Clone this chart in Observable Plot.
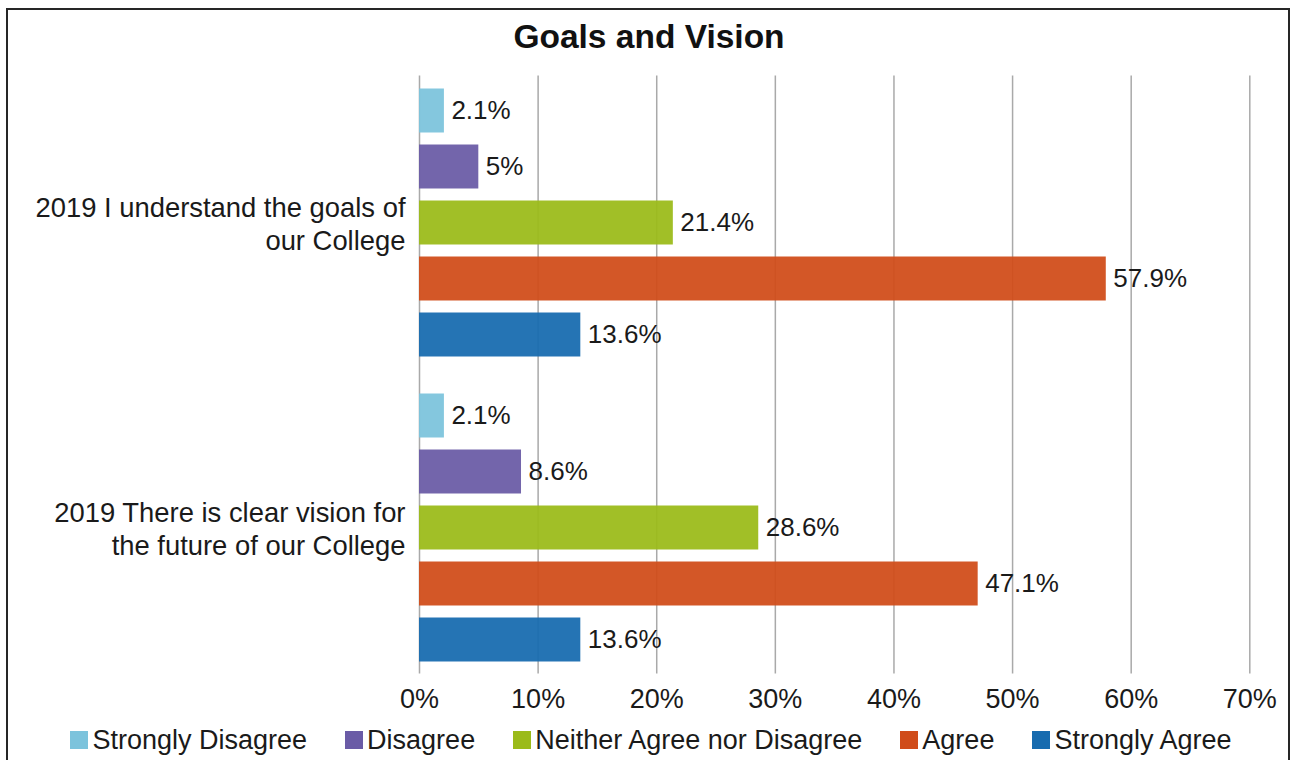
<!DOCTYPE html>
<html>
<head>
<meta charset="utf-8">
<script src="https://cdn.jsdelivr.net/npm/d3@7"></script>
<script src="https://cdn.jsdelivr.net/npm/@observablehq/plot@0.6"></script>
<style>
  html, body { margin: 0; padding: 0; background: #fff; }
  #wrap { position: relative; width: 1298px; height: 760px; overflow: hidden; background: #fff;
          font-family: "Liberation Sans", Arial, sans-serif; color: #1a1a1a; }
  #frame { position: absolute; left: 6px; top: 8px; width: 1284px; height: 820px; box-sizing: border-box;
           border: 2.5px solid #262626; pointer-events: none; }
  #title { height: 64px; box-sizing: border-box; padding-top: 10px; text-align: center;
           font-size: 33.5px; font-weight: bold; line-height: 54px; color: #111; }
  #chart svg { display: block; }
  #legend { height: 40px; display: flex; justify-content: center; align-items: center; gap: 38px;
            font-size: 27px; color: #1a1a1a; padding-left: 4px; }
  .item { display: flex; align-items: center; white-space: nowrap; }
  .sw { width: 18px; height: 18px; margin-right: 4px; }
</style>
</head>
<body>
<div id="wrap">
  <div id="title">Goals and Vision</div>
  <div id="chart"></div>
  <div id="legend"></div>
  <div id="frame"></div>
</div>
<script>
const questions = [
  "2019 I understand the goals of our College",
  "2019 There is clear vision for the future of our College"
];
const questionLines = [
  "2019 I understand the goals of\nour College",
  "2019 There is clear vision for\nthe future of our College"
];
const levels = ["Strongly Disagree", "Disagree", "Neither Agree nor Disagree", "Agree", "Strongly Agree"];
const colors = ["#7cc3dc", "#6a5ba6", "#9bbb1a", "#d04c1a", "#176baf"];
const goalsValues = [2.1, 5, 21.4, 57.9, 13.6];
const visionValues = [2.1, 8.6, 28.6, 47.1, 13.6];
const xTicks = [0, 10, 20, 30, 40, 50, 60, 70];

const seriesByQuestion = [goalsValues, visionValues];
const rows = [];
questions.forEach((q, qi) => levels.forEach((l, li) => rows.push({question: q, level: l, value: seriesByQuestion[qi][li]})));

const grid1 = xTicks.map(t => ({t, q: questions[0]}));
const grid2 = xTicks.map(t => ({t, q: questions[1]}));

const chart = Plot.plot({
  width: 1298,
  height: 656,
  marginLeft: 419,
  marginRight: 48.7,
  marginTop: 5.5,
  marginBottom: 40.5,
  style: {fontFamily: "'Liberation Sans', Arial, sans-serif", fontSize: "27px", color: "#1a1a1a", background: "transparent", overflow: "visible"},
  x: {domain: [0, 70], ticks: xTicks, tickFormat: d => d + "%", tickSize: 0, tickPadding: 8, label: null},
  y: {domain: levels, axis: null, paddingInner: 0.221, paddingOuter: 0.31},
  fy: {domain: questions, axis: null, padding: 0},
  color: {domain: levels, range: colors},
  marks: [
    Plot.ruleX(grid1, {x: "t", fy: "q", insetTop: 5.5, stroke: "#a9a9a9", strokeWidth: 1.5}),
    Plot.ruleX(grid2, {x: "t", fy: "q", insetBottom: 6.5, stroke: "#a9a9a9", strokeWidth: 1.5}),
    Plot.barX(rows, {x: "value", y: "level", fy: "question", fill: "level", fillOpacity: 0.94}),
    Plot.text(rows, {x: "value", y: "level", fy: "question", text: d => d.value + "%", textAnchor: "start", dx: 7, fontSize: 26, fill: "#1a1a1a"}),
    Plot.text(questions, {fy: d => d, frameAnchor: "left", text: (d, i) => questionLines[i], textAnchor: "end", dx: -14, fontSize: 27.4, lineHeight: 1.2, fill: "#1a1a1a"})
  ]
});
document.getElementById("chart").appendChild(chart);

const legend = document.getElementById("legend");
levels.forEach((l, i) => {
  const it = document.createElement("div");
  it.className = "item";
  const sw = document.createElement("span");
  sw.className = "sw";
  sw.style.background = colors[i];
  const tx = document.createElement("span");
  tx.textContent = l;
  it.appendChild(sw);
  it.appendChild(tx);
  legend.appendChild(it);
});
</script>
</body>
</html>
